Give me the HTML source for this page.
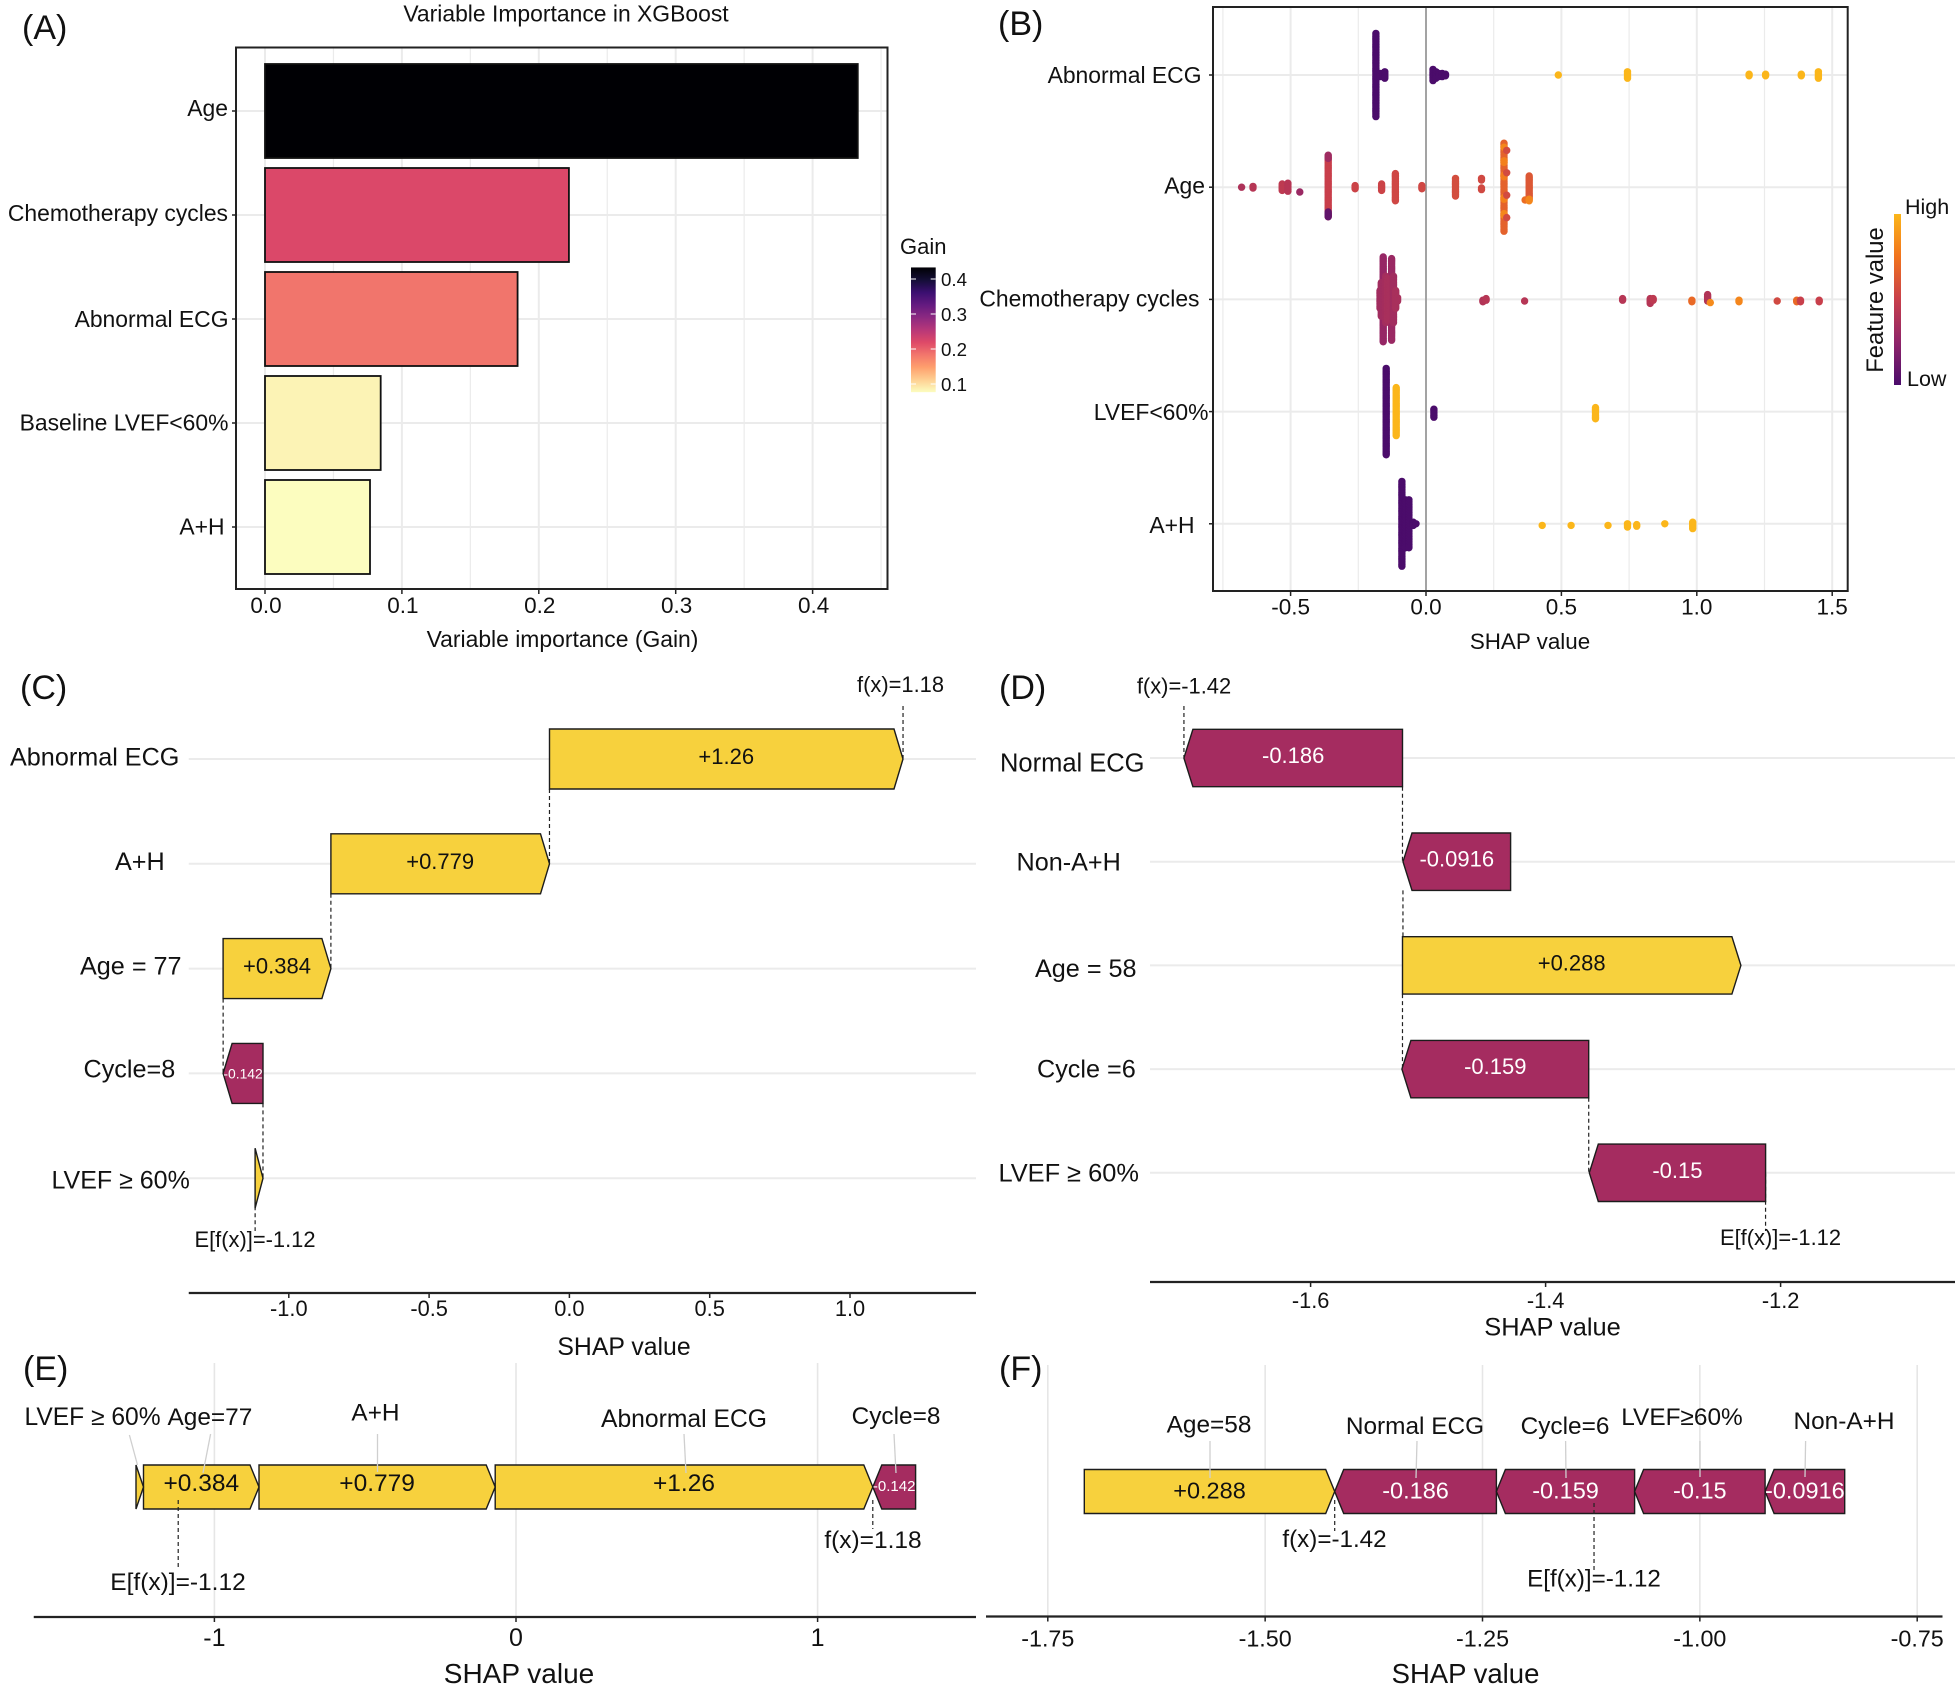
<!DOCTYPE html>
<html lang="en">
<head>
<meta charset="utf-8">
<title>XGBoost variable importance and SHAP plots</title>
<style>
html,body{margin:0;padding:0;background:#fff;}
svg{display:block;}
text{font-family:"Liberation Sans",Arial,sans-serif;fill:#111;}
.panel{font-size:34px;}
.lab{font-size:22.9px;}
.lab25{font-size:25.2px;}
.lab24{font-size:24.4px;}
.end{text-anchor:end;}
.mid{text-anchor:middle;}
.lead{stroke:#cfcfcf;stroke-width:1.3;fill:none;}
</style>
</head>
<body>
<svg id="fig" xmlns="http://www.w3.org/2000/svg" width="1955" height="1693" viewBox="0 0 1955 1693">
  <rect x="0" y="0" width="1955" height="1693" fill="#fff"/>

  <!-- Panel A -->
  <g id="panel-a">
    <text class="panel" x="22" y="39">(A)</text>
    <text class="lab mid" x="566" y="21.5">Variable Importance in XGBoost</text>
    <g id="a-grid"></g>
    <g id="a-bars"></g>
    <rect x="236" y="47.5" width="651.5" height="541.5" fill="none" stroke="#222" stroke-width="2"/>
    <text class="lab end" x="228" y="116">Age</text>
    <text class="lab end" x="228" y="221">Chemotherapy cycles</text>
    <text class="lab end" x="228.5" y="327">Abnormal ECG</text>
    <text class="lab end" x="228.5" y="430.5">Baseline LVEF&lt;60%</text>
    <text class="lab end" x="224.5" y="534.5">A+H</text>
    <text class="lab mid" x="562.5" y="647">Variable importance (Gain)</text>
    <g id="a-legend">
      <text x="900" y="254" style="font-size:22px">Gain</text>
    </g>
  </g>

  <!-- Panel B -->
  <g id="panel-b">
    <g id="b-grid"></g>
    <g id="b-dots"></g>
    <rect x="1213" y="7" width="634.7" height="584" fill="none" stroke="#222" stroke-width="2"/>
    <text class="panel" x="998" y="35">(B)</text>
    <text class="lab end" x="1201.5" y="83">Abnormal ECG</text>
    <text class="lab end" x="1205" y="193.5">Age</text>
    <text class="lab end" x="1199.5" y="306.5">Chemotherapy cycles</text>
    <text class="lab end" x="1208.5" y="420">LVEF&lt;60%</text>
    <text class="lab end" x="1194.5" y="533">A+H</text>
    <text class="mid" x="1530" y="649" style="font-size:22.4px">SHAP value</text>
    <g>
      <rect id="fv-bar" x="1894" y="214" width="7" height="171"/>
      <text x="1905" y="214" style="font-size:21.5px">High</text>
      <text x="1907" y="386" style="font-size:21.5px">Low</text>
      <text class="mid" transform="translate(1883 300) rotate(-90)" style="font-size:23.8px">Feature value</text>
    </g>
  </g>

  <!-- Panel C -->
  <g id="panel-c">
    <text class="panel" x="20" y="699">(C)</text>
    <g id="c-marks"></g>
    <text class="lab25" x="10" y="765.5">Abnormal ECG</text>
    <text class="lab25" x="115" y="870">A+H</text>
    <text class="lab25" x="80" y="974.5">Age = 77</text>
    <text class="lab25" x="83.5" y="1077.5">Cycle=8</text>
    <text x="51.5" y="1188.5" style="font-size:25px">LVEF ≥ 60%</text>
    <text class="mid" x="900.5" y="692" style="font-size:21.9px">f(x)=1.18</text>
    <text class="mid" x="255" y="1247" style="font-size:21.9px">E[f(x)]=-1.12</text>
    <text class="mid" x="624" y="1355" style="font-size:24.8px">SHAP value</text>
  </g>

  <!-- Panel D -->
  <g id="panel-d">
    <text class="panel" x="999" y="699">(D)</text>
    <g id="d-marks"></g>
    <text x="1000" y="771.5" style="font-size:25.5px">Normal ECG</text>
    <text class="lab25" x="1016.5" y="870.5">Non-A+H</text>
    <text class="lab25" x="1035" y="977">Age = 58</text>
    <text class="lab25" x="1037" y="1077.5">Cycle =6</text>
    <text x="998.5" y="1181.5" style="font-size:25.4px">LVEF ≥ 60%</text>
    <text class="mid" x="1184" y="693.5" style="font-size:21.9px">f(x)=-1.42</text>
    <text class="mid" x="1780.5" y="1245" style="font-size:21.9px">E[f(x)]=-1.12</text>
    <text class="mid" x="1552.5" y="1335.5" style="font-size:25.4px">SHAP value</text>
  </g>

  <!-- Panel E -->
  <g id="panel-e">
    <g id="e-marks"></g>
    <text class="panel" x="23" y="1380">(E)</text>
    <text x="24.5" y="1425" style="font-size:24.6px">LVEF ≥ 60%</text>
    <text class="lab24" x="167.5" y="1425">Age=77</text>
    <text class="lab24 mid" x="375.5" y="1420.5">A+H</text>
    <text class="mid" x="684" y="1427" style="font-size:24.7px">Abnormal ECG</text>
    <text class="lab24 mid" x="896" y="1424">Cycle=8</text>
    <text class="mid" x="873" y="1548" style="font-size:24.5px">f(x)=1.18</text>
    <text class="mid" x="178" y="1590" style="font-size:24.5px">E[f(x)]=-1.12</text>
    <text class="mid" x="519" y="1683" style="font-size:28px">SHAP value</text>
  </g>

  <!-- Panel F -->
  <g id="panel-f">
    <g id="f-marks"></g>
    <text class="panel" x="999" y="1380">(F)</text>
    <text class="lab24 mid" x="1209" y="1432.5">Age=58</text>
    <text class="lab24 mid" x="1415" y="1434">Normal ECG</text>
    <text class="lab24 mid" x="1565" y="1434">Cycle=6</text>
    <text class="lab24 mid" x="1682" y="1425">LVEF≥60%</text>
    <text class="lab24 mid" x="1844" y="1429">Non-A+H</text>
    <text class="mid" x="1334.5" y="1547" style="font-size:24.2px">f(x)=-1.42</text>
    <text class="mid" x="1594" y="1586.5" style="font-size:24.2px">E[f(x)]=-1.12</text>
    <text class="mid" x="1465.5" y="1683" style="font-size:27.5px">SHAP value</text>
  </g>
</svg>

<script>
/* ---------- Panel A data ---------- */
const aCategories = ['age', 'chemotherapy-cycles', 'abnormal-ecg', 'baseline-lvef', 'a-h'];
const aGain = [0.433, 0.222, 0.1845, 0.0845, 0.0767];
const aTicks = [0, 0.1, 0.2, 0.3, 0.4];
const aTickLabels = ['0.0', '0.1', '0.2', '0.3', '0.4'];
const gainLegendTicks = [0.4, 0.3, 0.2, 0.1];
const gainLegendLabels = ['0.4', '0.3', '0.2', '0.1'];

/* ---------- Panel B data: each entry is a stack of same-valued observations ---------- */
const bCategories = ['abnormal-ecg', 'age', 'chemotherapy-cycles', 'lvef', 'a-h'];
const bTicks = [-0.5, 0, 0.5, 1, 1.5];
const bTickLabels = ['-0.5', '0.0', '0.5', '1.0', '1.5'];

const ecgShap = [-0.185, -0.17, -0.16, -0.152, 0.026, 0.037, 0.047, 0.06, 0.072, 0.4885, 0.744, 1.193, 1.254, 1.386, 1.449];
const ecgCount = [53, 3, 3, 5, 8, 5, 3, 3, 2, 1, 5, 2, 2, 2, 5];
const ecgFeature = [0, 0, 0, 0, 0, 0, 0, 0, 0, 1, 1, 1, 1, 1, 1];
const ecgSlot = [0, 0, 0, 0, 0, 0, 0, 0, 0, 0, 0, 0, 0, 0, 0];

const ageShap = [-0.681, -0.639, -0.531, -0.51, -0.466, -0.361, -0.361, -0.361, -0.262, -0.164, -0.113, -0.015, 0.109, 0.205, 0.205, 0.288, 0.288, 0.288, 0.288, 0.288, 0.288, 0.298, 0.298, 0.298, 0.298, 0.381, 0.366, 0.381];
const ageCount = [1, 2, 5, 6, 1, 38, 3, 4, 3, 5, 18, 3, 12, 2, 2, 56, 1, 2, 2, 2, 2, 1, 1, 1, 1, 15, 1, 2];
const ageFeature = [0.38, 0.42, 0.45, 0.42, 0.3, 0.5, 0.32, 0.08, 0.52, 0.52, 0.54, 0.54, 0.57, 0.55, 0.55, 0.67, 0.82, 0.8, 0.78, 0.8, 0.82, 0.56, 0.56, 0.56, 0.56, 0.62, 0.72, 0.82];
const ageSlot = [0, 0, 0, 0, 3, 0, -19, 17, 0, 0, 0, 0, 0, -5, 1, 0, -25, -16, -7, 7, 17, -23, -9, 5, 19, 0, 8, 8];

const chemoShap = [-0.158, -0.127, -0.17, -0.165, -0.149, -0.142, -0.135, -0.12, -0.112, -0.105, 0.21, 0.222, 0.364, 0.726, 0.828, 0.839, 0.982, 1.04, 1.156, 1.297, 1.369, 1.383, 1.452, 1.05];
const chemoCount = [54, 52, 12, 22, 30, 27, 22, 30, 12, 3, 2, 2, 1, 2, 4, 2, 2, 5, 2, 1, 2, 2, 2, 1];
const chemoFeature = [0.28, 0.3, 0.33, 0.33, 0.34, 0.36, 0.36, 0.33, 0.36, 0.36, 0.4, 0.42, 0.42, 0.42, 0.42, 0.45, 0.7, 0.4, 0.82, 0.55, 0.7, 0.5, 0.5, 0.84];
const chemoSlot = [0, 0, 0, 0, 0, 0, 0, 0, 0, 0, 1, 0, 1, 0, 1, 0, 1, -1, 1, 1, 1, 1, 1, 2];

const lvefShap = [-0.147, -0.11, 0.029, 0.626];
const lvefCount = [55, 31, 6, 8];
const lvefFeature = [0, 1, 0, 1];
const lvefSlot = [0, 0, 1, 1];

const ahShap = [-0.089, -0.076, -0.063, -0.047, -0.037, 0.429, 0.536, 0.672, 0.744, 0.778, 0.882, 0.985];
const ahCount = [54, 31, 31, 3, 1, 1, 1, 1, 3, 2, 1, 5];
const ahFeature = [0, 0, 0, 0, 0, 1, 1, 1, 1, 1, 1, 1];
const ahSlot = [0, 0, 0, 0, 0, 1, 1, 1, 1, 1, 0, 1];

const bRowShap = [ecgShap, ageShap, chemoShap, lvefShap, ahShap];
const bRowCount = [ecgCount, ageCount, chemoCount, lvefCount, ahCount];
const bRowFeature = [ecgFeature, ageFeature, chemoFeature, lvefFeature, ahFeature];
const bRowSlot = [ecgSlot, ageSlot, chemoSlot, lvefSlot, ahSlot];

/* ---------- Panel C data ---------- */
const cCategories = ['abnormal-ecg', 'a-h', 'age', 'cycle', 'lvef'];
const cValues = [1.26, 0.779, 0.384, -0.142, 0.028];
const cPrinted = ['+1.26', '+0.779', '+0.384', '-0.142', ''];
const cExpected = -1.12;
const cTicks = [-1, -0.5, 0, 0.5, 1];
const cTickLabels = ['-1.0', '-0.5', '0.0', '0.5', '1.0'];

/* ---------- Panel D data ---------- */
const dCategories = ['normal-ecg', 'non-a-h', 'age', 'cycle', 'lvef'];
const dValues = [-0.186, -0.0916, 0.288, -0.159, -0.15];
const dStarts = [-1.5218, -1.4298, -1.5218, -1.3633, -1.2128];
const dPrinted = ['-0.186', '-0.0916', '+0.288', '-0.159', '-0.15'];
const dTicks = [-1.6, -1.4, -1.2];
const dTickLabels = ['-1.6', '-1.4', '-1.2'];

/* ---------- Panel E data (bar lengths) ---------- */
const eCategories = ['abnormal-ecg', 'a-h', 'age', 'lvef', 'cycle'];
const eValues = [1.252, 0.783, 0.383, 0.025, -0.142];
const ePrinted = ['+1.26', '+0.779', '+0.384', '', '-0.142'];
const eOutput = 1.183;
const eExpected = -1.12;
const eTicks = [-1, 0, 1];
const eTickLabels = ['-1', '0', '1'];

/* ---------- Panel F data ---------- */
const fCategories = ['age', 'normal-ecg', 'cycle', 'lvef', 'non-a-h'];
const fValues = [0.288, -0.186, -0.159, -0.15, -0.0916];
const fPrinted = ['+0.288', '-0.186', '-0.159', '-0.15', '-0.0916'];
const fOutput = -1.42;
const fExpected = -1.12;
const fTicks = [-1.75, -1.5, -1.25, -1, -0.75];
const fTickLabels = ['-1.75', '-1.50', '-1.25', '-1.00', '-0.75'];

/* ---------- Axis functions ---------- */
const xA = v => 265 + 1369 * v;
const yA = i => 111 + 104 * i;
const yGain = v => 279 + (0.4 - v) * 350;
const xB = v => 1426 + 270.8 * v;
const yB = i => 75 + 112.2 * i;
const xC = v => 569.4 + 280.6 * v;
const yC = i => 759 + 104.8 * i;
const xD = v => 1545.6 + 1175 * (v + 1.4);
const yD = i => 758 + 103.7 * i;
const xE = v => 516 + 301.6 * v;
const xF = v => 1482.5 + 869.4 * (v + 1.25);

/* ---------- Helpers ---------- */
const NS = 'http://www.w3.org/2000/svg';
const YELLOW = '#f7d13d';
const MAROON = '#a52c60';
const GRID = '#ebebeb';
function hex(c) { return [1, 3, 5].map(i => parseInt(c.substr(i, 2), 16)); }
function ramp(stops, t) {
  const p = Math.max(0, Math.min(1, t)) * (stops.length - 1);
  const i = Math.min(stops.length - 2, Math.floor(p));
  const a = hex(stops[i]), b = hex(stops[i + 1]), f = p - i;
  return 'rgb(' + a.map((q, k) => Math.round(q + (b[k] - q) * f)).join(',') + ')';
}
const MAGMA = ['#000004', '#140e36', '#3b0f70', '#641a80', '#8c2981', '#b73779', '#de4968', '#f2766c', '#fe9f6d', '#fecf92', '#fcfdbf'];
const INFERNO = ['#4b0c6b', '#8f2469', '#c83f4b', '#f1731d', '#fbb61a'];
function mk(parent, tag, attrs, content) {
  const n = document.createElementNS(NS, tag);
  for (const k in attrs) n.setAttribute(k, attrs[k]);
  if (content !== undefined) n.textContent = content;
  parent.appendChild(n);
  return n;
}
const $ = id => document.getElementById(id);

function arrowPoints(x0, x1, cy, half) {
  const dir = x1 >= x0 ? 1 : -1;
  const head = Math.min(9, Math.abs(x1 - x0));
  const neck = x1 - dir * head;
  return [[x0, cy - half], [neck, cy - half], [x1, cy], [neck, cy + half], [x0, cy + half]]
    .map(p => p[0].toFixed(1) + ',' + p[1].toFixed(1)).join(' ');
}

function drawArrow(parent, key, x0, x1, cy, half, printed, baseSize, textDy) {
  const up = x1 >= x0;
  const poly = mk(parent, 'polygon', { points: arrowPoints(x0, x1, cy, half), fill: up ? YELLOW : MAROON, stroke: '#1c1c1c', 'stroke-width': 1.4, 'stroke-linejoin': 'miter' });
  
  
  if (printed) {
    const w = Math.abs(x1 - x0);
    const size = Math.min(baseSize, w * 0.35);
    const lab = mk(parent, 'text', { x: (x0 + x1) / 2, y: cy + textDy, 'text-anchor': 'middle', style: 'font-size:' + size.toFixed(1) + 'px;fill:' + (up ? '#111' : '#fff') }, printed);
    
    
  }
}

function drawDash(parent, x, y1, y2) {
  const d = mk(parent, 'line', { x1: x, x2: x, y1: y1, y2: y2, stroke: '#222', 'stroke-width': 1.2, 'stroke-dasharray': '4 3' });
  
  
}

function drawAxis(parent, x1, x2, y, ticks, labels, xf, labelY, size, gridTop) {
  ticks.forEach((t, i) => {
    if (gridTop !== undefined) {
      const g = mk(parent, 'line', { x1: xf(t), x2: xf(t), y1: gridTop, y2: y, stroke: '#e6e6e6', 'stroke-width': 1.6 });
      
      
    }
  });
  const ax = mk(parent, 'line', { x1: x1, x2: x2, y1: y, y2: y, stroke: '#222', 'stroke-width': 2.2 });
  
  
  ticks.forEach((t, i) => {
    const tk = mk(parent, 'line', { x1: xf(t), x2: xf(t), y1: y, y2: y + 5, stroke: '#222', 'stroke-width': 1.5 });
    
    
    const lb = mk(parent, 'text', { x: xf(t), y: labelY, 'text-anchor': 'middle', style: 'font-size:' + size + 'px' }, labels[i]);
    
    
  });
}

/* ---------- Panel A ---------- */
(function () {
  const grid = $('a-grid'), bars = $('a-bars'), legend = $('a-legend');
  for (let k = 0; k <= 9; k++) {
    const v = k * 0.05;
    const g = mk(grid, 'line', { x1: xA(v), x2: xA(v), y1: 48, y2: 589, stroke: GRID, 'stroke-width': k % 2 ? 1.2 : 2 });
    
    
  }
  const gMax = Math.max(...aGain), gMin = Math.min(...aGain);
  aCategories.forEach((c, i) => {
    const g = mk(grid, 'line', { x1: 236, x2: 887, y1: yA(i), y2: yA(i), stroke: GRID, 'stroke-width': 2 });
    
    
    const tk = mk(grid, 'line', { x1: 232, x2: 236, y1: yA(i), y2: yA(i), stroke: '#222', 'stroke-width': 1.5 });
    
    
    const t = (aGain[i] - gMin) / (gMax - gMin);
    const bar = mk(bars, 'rect', { x: xA(0), y: yA(i) - 47, width: xA(aGain[i]) - xA(0), height: 94, fill: ramp(MAGMA, 1 - t), stroke: '#111', 'stroke-width': 1.8 });
    
    
  });
  aTicks.forEach((t, i) => {
    const tk = mk(grid, 'line', { x1: xA(t), x2: xA(t), y1: 589, y2: 594, stroke: '#222', 'stroke-width': 1.5 });
    
    
    const lb = mk(grid, 'text', { x: xA(t) + 1, y: 613, 'text-anchor': 'middle', style: 'font-size:22.5px' }, aTickLabels[i]);
    
    
  });
  /* gain colour bar */
  const defs = mk(legend, 'defs', {});
  const lg = mk(defs, 'linearGradient', { id: 'gain-grad', x1: 0, x2: 0, y1: 0, y2: 1 });
  MAGMA.forEach((c, i) => { mk(lg, 'stop', { offset: i / (MAGMA.length - 1), 'stop-color': c }); });
  const bar = mk(legend, 'rect', { x: 911, y: yGain(gMax), width: 24.7, height: yGain(gMin) - yGain(gMax), fill: 'url(#gain-grad)' });
  
  
  gainLegendTicks.forEach((t, i) => {
    [[911, 916], [930.7, 935.7]].forEach(p => {
      const tk = mk(legend, 'line', { x1: p[0], x2: p[1], y1: yGain(t), y2: yGain(t), stroke: '#fff', 'stroke-width': 1 });
      
      
    });
    const lb = mk(legend, 'text', { x: 941, y: yGain(t) + 6.8, style: 'font-size:18.7px' }, gainLegendLabels[i]);
    
    
  });
})();

/* ---------- Panel B ---------- */
(function () {
  const grid = $('b-grid'), dots = $('b-dots');
  for (let k = -3; k <= 6; k++) {
    const v = k * 0.25;
    const g = mk(grid, 'line', { x1: xB(v), x2: xB(v), y1: 7, y2: 591, stroke: GRID, 'stroke-width': k % 2 ? 1.2 : 2 });
    
    
  }
  bCategories.forEach((c, r) => {
    const g = mk(grid, 'line', { x1: 1213, x2: 1847, y1: yB(r), y2: yB(r), stroke: GRID, 'stroke-width': 2 });
    
    
    const tk = mk(grid, 'line', { x1: 1209, x2: 1213, y1: yB(r), y2: yB(r), stroke: '#222', 'stroke-width': 1.5 });
    
    
  });
  const zero = mk(grid, 'line', { x1: xB(0), x2: xB(0), y1: 7, y2: 591, stroke: '#a3a3a3', 'stroke-width': 2 });
  
  
  bTicks.forEach((t, i) => {
    const tk = mk(grid, 'line', { x1: xB(t), x2: xB(t), y1: 591, y2: 596, stroke: '#222', 'stroke-width': 1.5 });
    
    
    const lb = mk(grid, 'text', { x: xB(t), y: 614.5, 'text-anchor': 'middle', style: 'font-size:22.5px' }, bTickLabels[i]);
    
    
  });
  const STEP = 1.6;
  bCategories.forEach((c, r) => {
    const shap = bRowShap[r], count = bRowCount[r], feat = bRowFeature[r], slot = bRowSlot[r];
    shap.forEach((v, j) => {
      const fill = ramp(INFERNO, feat[j]);
      for (let d = 0; d < count[j]; d++) {
        const cy = yB(r) + (slot[j] + d - (count[j] - 1) / 2) * STEP;
        const dot = mk(dots, 'circle', { cx: xB(v).toFixed(1), cy: cy.toFixed(1), r: 3.7, fill: fill });
        
        
      }
    });
  });
  const defs = mk(dots, 'defs', {});
  const lg = mk(defs, 'linearGradient', { id: 'fv-grad', x1: 0, x2: 0, y1: 1, y2: 0 });
  INFERNO.forEach((c, i) => { mk(lg, 'stop', { offset: i / (INFERNO.length - 1), 'stop-color': c }); });
  $('fv-bar').setAttribute('fill', 'url(#fv-grad)');
})();

/* ---------- Waterfalls C and D ---------- */
function drawWaterfall(parent, cats, starts, values, printed, yf, xf, half, left, right, textDy) {
  const xs0 = starts.map(xf);
  const xs1 = starts.map((s, i) => xf(s + values[i]));
  cats.forEach((c, i) => {
    const g = mk(parent, 'line', { x1: left, x2: right, y1: yf(i), y2: yf(i), stroke: GRID, 'stroke-width': 2 });
    
    
  });
  for (let i = 0; i < cats.length - 1; i++) {
    let best = xs0[i], gap = Infinity;
    [xs0[i], xs1[i]].forEach(a => {
      [xs0[i + 1], xs1[i + 1]].forEach(b => {
        if (Math.abs(a - b) < gap) { gap = Math.abs(a - b); best = a; }
      });
    });
    drawDash(parent, best, yf(i) + half, yf(i + 1));
  }
  cats.forEach((c, i) => {
    drawArrow(parent, c, xs0[i], xs1[i], yf(i), half, printed[i], 22, textDy);
  });
  return { xs0, xs1 };
}

(function () {
  const host = $('c-marks');
  let run = cExpected;
  const starts = cValues.slice();
  for (let i = cValues.length - 1; i >= 0; i--) { starts[i] = run; run += cValues[i]; }
  drawDash(host, xC(run), 706, yC(0));
  drawDash(host, xC(cExpected), yC(4), 1231);
  drawWaterfall(host, cCategories, starts, cValues, cPrinted, yC, xC, 30, 188.75, 976, 5);
  drawAxis(host, 188.75, 976, 1293, cTicks, cTickLabels, xC, 1316, 21.8);
})();

(function () {
  const host = $('d-marks');
  const tip = xD(dStarts[0] + dValues[0]);
  drawDash(host, tip, 706, yD(0));
  drawDash(host, xD(dStarts[4]), yD(4), 1231);
  drawWaterfall(host, dCategories, dStarts, dValues, dPrinted, yD, xD, 28.7, 1150, 1955, 5);
  drawAxis(host, 1150, 1955, 1282, dTicks, dTickLabels, xD, 1308, 21.8);
})();

/* ---------- Force plots E and F ---------- */
function drawForce(parent, cats, values, printed, output, xf, cy, half, size, textDy) {
  let pos = output, neg = output;
  cats.forEach((c, i) => {
    if (values[i] >= 0) {
      drawArrow(parent, c, xf(pos - values[i]), xf(pos), cy, half, printed[i], size, textDy);
      pos -= values[i];
    }
  });
  cats.forEach((c, i) => {
    if (values[i] < 0) {
      drawArrow(parent, c, xf(neg - values[i]), xf(neg), cy, half, printed[i], size, textDy);
      neg -= values[i];
    }
  });
}
function drawLeaders(parent, list) {
  list.forEach(p => {
    const l = mk(parent, 'line', { x1: p[0], y1: p[1], x2: p[2], y2: p[3], class: 'lead' });
    
    
  });
}

(function () {
  const host = $('e-marks');
  drawAxis(host, 33.75, 976, 1617, eTicks, eTickLabels, xE, 1646, 25, 1363);
  drawForce(host, eCategories, eValues, ePrinted, eOutput, xE, 1487, 22, 24.5, 4);
  drawLeaders(host, [[129.4, 1435, 137.5, 1465], [210.6, 1434, 203, 1473], [377.5, 1434, 377.5, 1472], [684, 1434, 686, 1473], [894, 1434, 896, 1473]]);
  drawDash(host, xE(eOutput), 1500, 1529);
  drawDash(host, xE(eExpected), 1500, 1568);
})();

(function () {
  const host = $('f-marks');
  drawAxis(host, 986, 1942.5, 1616.5, fTicks, fTickLabels, xF, 1646.7, 23.3, 1365);
  drawForce(host, fCategories, fValues, fPrinted, fOutput, xF, 1491.5, 22, 23.5, 7);
  drawLeaders(host, [[1210, 1441, 1210, 1478], [1417, 1441, 1416, 1478], [1565.6, 1441, 1566, 1478], [1700, 1441, 1700, 1477], [1805.6, 1441, 1805, 1477]]);
  drawDash(host, xF(fOutput), 1500, 1531);
  drawDash(host, xF(fExpected) - 1.5, 1503, 1570);
})();
</script>
</body>
</html>
